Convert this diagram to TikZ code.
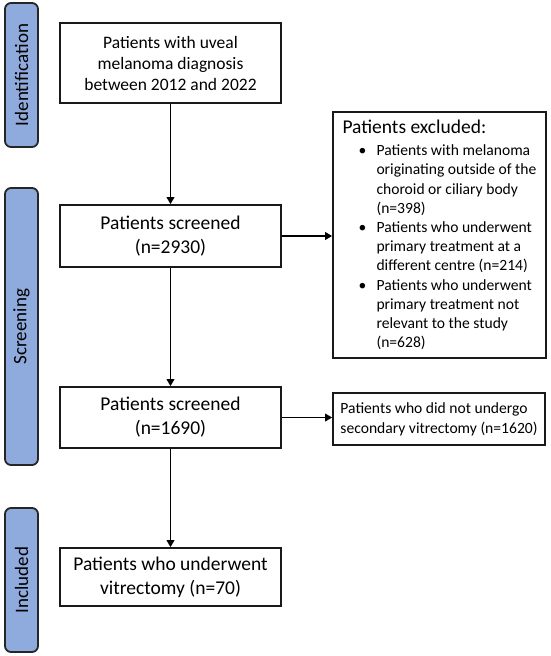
\documentclass[tikz,border=0pt]{standalone}
\usepackage{fontspec}
\setmainfont{Carlito}
\usetikzlibrary{arrows.meta}
\definecolor{barblue}{HTML}{8FAADC}
\begin{document}
\begin{tikzpicture}[x=1pt,y=-1pt,
  box/.style={draw=black!90, line width=1.6pt, fill=white, align=center, inner sep=2pt, minimum width=221pt},
  bigtext/.style={font=\fontsize{19.5}{24}\selectfont},
  bar/.style={draw=black!85, line width=1.8pt, fill=barblue, rounded corners=6pt, minimum width=33pt},
  barlabel/.style={rotate=90, font=\fontsize{19}{22}\selectfont},
  arr/.style={line width=1.7pt, -{Triangle[length=7pt,width=7.5pt]}}]

\useasboundingbox (0,0) rectangle (550,656);

% side bars
\node[bar, minimum height=144pt] (idbar) at (21.5,75) {};
\node[barlabel] (idlab) at (idbar.center) {Identification};
\node[bar, minimum height=277pt] (scbar) at (21.5,326.5) {};
\node[barlabel] (sclab) at (scbar.center) {Screening};
\node[bar, minimum height=144pt] (inbar) at (21.5,580) {};
\node[barlabel] (inlab) at (inbar.center) {Included};

% main boxes
\node[box, minimum height=80pt, font=\fontsize{17.5}{21}\selectfont] (b1) at (170.5,63)
  {Patients with uveal\\melanoma diagnosis\\between 2012 and 2022};
\node[box, bigtext, minimum height=62pt] (b2) at (170.5,236)
  {Patients screened\\(n=2930)};
\node[box, bigtext, minimum height=61pt] (b3) at (170.5,417.5)
  {Patients screened\\(n=1690)};
\node[box, bigtext, minimum height=58pt] (b4) at (170.5,577)
  {Patients who underwent\\vitrectomy (n=70)};

% exclusion boxes
\node[draw=black!90, line width=1.6pt, fill=white, minimum width=213pt, minimum height=246pt,
      align=left, font=\fontsize{15.6}{19.2}\selectfont] (ex) at (439.5,235)
  {{\fontsize{19.5}{22}\selectfont Patients excluded:}\\[3pt]
   \hspace*{16pt}\makebox[18pt][l]{\textbullet}Patients with melanoma\\
   \hspace*{34pt}originating outside of the\\
   \hspace*{34pt}choroid or ciliary body\\
   \hspace*{34pt}(n=398)\\
   \hspace*{16pt}\makebox[18pt][l]{\textbullet}Patients who underwent\\
   \hspace*{34pt}primary treatment at a\\
   \hspace*{34pt}different centre (n=214)\\
   \hspace*{16pt}\makebox[18pt][l]{\textbullet}Patients who underwent\\
   \hspace*{34pt}primary treatment not\\
   \hspace*{34pt}relevant to the study\\
   \hspace*{34pt}(n=628)};
\node[draw=black!90, line width=1.6pt, fill=white, minimum width=212pt, minimum height=52pt,
      align=left, font=\fontsize{15.6}{20}\selectfont] (sm) at (439,419)
  {Patients who did not undergo\\secondary vitrectomy (n=1620)};

% connectors
\draw[arr] (b1.south) -- (b1.south |- b2.north);
\draw[arr] (b2.south) -- (b2.south |- b3.north);
\draw[arr] (b3.south) -- (b3.south |- b4.north);
\draw[arr] (b2.east) -- (b2.east -| ex.west);
\draw[arr] (b3.east) -- (b3.east -| sm.west);
\end{tikzpicture}
\end{document}
